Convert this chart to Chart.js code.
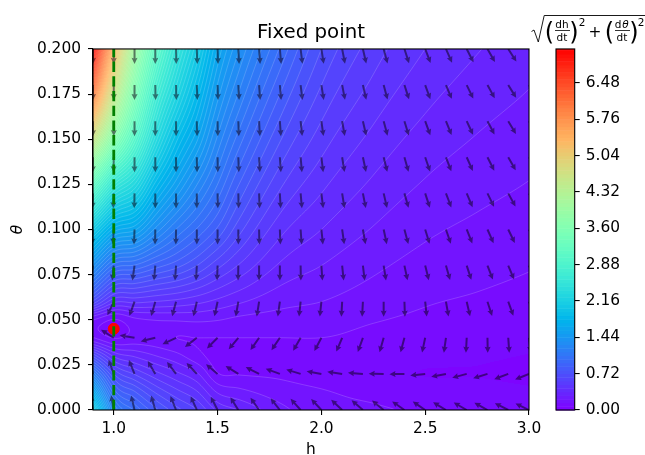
<!DOCTYPE html>
<html><head><meta charset="utf-8">
<style>html,body{margin:0;padding:0;background:#fff}canvas{display:block}</style>
<script src="https://cdn.jsdelivr.net/npm/chart.js@4"></script>
</head><body><canvas id="c" width="645" height="455"></canvas>
<script>
// magnitude table: sampled at hGrid (columns) and thetaGrid (rows, low to high)
const thetaGrid=[0,.01,.02,.03,.04,.05,.06,.08,.1,.125,.15,.175,.2];
const hGrid=[.9,1,1.1,1.2,1.3,1.4,1.5,1.6,1.8,2,2.25,2.5,2.75,3];
const magH090=[2.2,1.7,1.2,.7,.22,.22,.7,1.4,2.1,3.2,4.6,6.0,7.15];
const magH100=[1.25,.98,.72,.42,.14,.14,.45,1.05,1.7,2.6,3.7,4.6,5.4];
const magH110=[1.0,.8,.57,.35,.17,.2,.45,1.0,1.6,2.3,3.0,3.55,4.05];
const magH120=[.82,.64,.46,.29,.17,.22,.43,.9,1.35,1.85,2.35,2.75,3.15];
const magH130=[.68,.53,.38,.24,.144,.225,.41,.82,1.15,1.55,1.9,2.25,2.55];
const magH140=[.58,.44,.3,.17,.144,.23,.38,.72,1.0,1.3,1.6,1.85,2.1];
const magH150=[.42,.28,.15,.11,.144,.22,.34,.6,.85,1.08,1.28,1.47,1.65];
const magH160=[.36,.24,.14,.1,.144,.2,.3,.5,.68,.87,1.05,1.22,1.38];
const magH180=[.24,.18,.13,.09,.144,.185,.24,.35,.457,.593,.729,.864,1.0];
const magH200=[.17,.15,.11,.09,.144,.18,.216,.288,.36,.45,.54,.63,.72];
const magH225=[.155,.125,.09,.09,.12,.15,.18,.231,.283,.347,.411,.476,.54];
const magH250=[.13,.1,.07,.09,.11,.13,.15,.19,.23,.281,.331,.382,.432];
const magH275=[.11,.09,.07,.08,.1,.118,.135,.168,.2,.242,.283,.324,.365];
const magH300=[.1,.08,.06,.07,.09,.105,.12,.149,.177,.213,.249,.284,.32];
const magnitudeColumns=[magH090,magH100,magH110,magH120,magH130,magH140,magH150,magH160,magH180,magH200,magH225,magH250,magH275,magH300];
// arrow directions in degrees (0 = straight down on the page, + = to the right)
const arrowH=[.9,1,1.1,1.2,1.3,1.4,1.5,1.6,1.7,1.8,1.9,2,2.1,2.2,2.3,2.4,2.5,2.6,2.7,2.8,2.9,3];
const arrowTheta=[.2,.18,.16,.14,.12,.1,.08,.06,.04,.02,0];
const dir020=[0,0,0,0,1,2,2,3,4,5,7,9,11,13,15,18,21,24,27,30,33,36];
const dir018=[0,0,0,1,1,2,2,3,4,5,7,9,11,13,15,18,20,23,26,29,32,35];
const dir016=[0,0,0,0,0,1,1,2,3,4,6,8,10,13,15,17,20,22,25,28,31,34];
const dir014=[-1,-1,0,0,0,1,1,2,3,4,5,7,9,12,14,16,19,21,24,27,30,33];
const dir012=[-2,-2,-1,0,0,0,1,1,2,3,5,7,9,11,13,16,18,21,23,26,29,32];
const dir010=[-4,-3,-2,-1,-1,0,0,0,1,2,4,6,8,10,12,15,17,19,22,24,26,28];
const dir008=[-10,-6,-8,-5,-4,-3,-2,-1,0,0,1,4,6,7,9,12,14,16,18,21,23,25];
const dir006=[-30,-25,-20,-16,-15,-13,-12,-10,-9,-8,-6,-6,-3,-3,0,2,6,10,13,18,20,23];
const dir004=[-150,-122,-100,-76,-65,-52,-45,-40,-35,-34,-30,-28,-23,-20,-16,-15,-12,-8,-3,1,4,7];
const dir002=[-165,-160,-158,-150,-143,-137,-130,-122,-117,-110,-107,-100,-98,-94,-91,-89,-84,-79,-75,-73,-69,-68];
const dir000=[-172,-170,-167,-164,-158,-156,-153,-148,-145,-142,-138,-137,-133,-131,-129,-125,-124,-121,-120,-119,-117,-116];
const arrowDirs=[dir020,dir018,dir016,dir014,dir012,dir010,dir008,dir006,dir004,dir002,dir000];
const xTicks=[1,1.5,2,2.5,3];
const yTicks=[0,.025,.05,.075,.1,.125,.15,.175,.2];
const cbTicks=[0,.72,1.44,2.16,2.88,3.6,4.32,5.04,5.76,6.48];
const fixedPoint=[{x:1,y:.045}];
const guideLine=[{x:1,y:0},{x:1,y:.2}];
const vMax=7.154, levelStep=.072;

const FONT='"DejaVu Sans"';
function rainbow(t){t=Math.max(0,Math.min(1,t));
  return [Math.abs(2*t-.5),Math.abs(Math.sin(Math.PI*t)),Math.abs(Math.cos(Math.PI*t/2))].map(c=>Math.round(255*c));}
function bandColor(v){const k=Math.floor(v/levelStep);return rainbow((k+.5)*levelStep/vMax);}
function herm(xs,ys,x){
  const n=xs.length;let i=0;
  if(x<=xs[0])return ys[0]; if(x>=xs[n-1])return ys[n-1];
  while(i<n-2&&x>xs[i+1])i++;
  const d=i0=>i0<=0?(ys[1]-ys[0])/(xs[1]-xs[0]):i0>=n-1?(ys[n-1]-ys[n-2])/(xs[n-1]-xs[n-2]):
    ((ys[i0+1]-ys[i0])/(xs[i0+1]-xs[i0])+(ys[i0]-ys[i0-1])/(xs[i0]-xs[i0-1]))/2;
  const h=xs[i+1]-xs[i],s=(x-xs[i])/h,s2=s*s,s3=s2*s;
  return (2*s3-3*s2+1)*ys[i]+(s3-2*s2+s)*h*d(i)+(-2*s3+3*s2)*ys[i+1]+(s3-s2)*h*d(i+1);
}
function fieldRow(th){return magnitudeColumns.map(c=>herm(thetaGrid,c,th));}

const fieldPlugin={id:'field',
  afterLayout(chart){const s=chart.scales.cb,a=chart.chartArea;s.left=574.7;s.right=645;s.top=a.top;s.bottom=a.bottom;},
  beforeDatasetsDraw(chart){
    const {ctx,chartArea:a,scales:{x,y}}=chart;
    const L=Math.round(a.left),T=Math.round(a.top),W=Math.round(a.right)-L,H=Math.round(a.bottom)-T;
    const off=document.createElement('canvas');off.width=W;off.height=H;
    const oc=off.getContext('2d'),img=oc.createImageData(W,H);
    const hs=[];for(let i=0;i<W;i++)hs.push(x.getValueForPixel(L+i+.5));
    for(let j=0;j<H;j++){
      const r=fieldRow(y.getValueForPixel(T+j+.5));
      for(let i=0;i<W;i++){
        const v=Math.max(0,herm(hGrid,r,hs[i])),c=bandColor(v),p=(j*W+i)*4;
        img.data[p]=c[0];img.data[p+1]=c[1];img.data[p+2]=c[2];img.data[p+3]=255;
      }
    }
    oc.putImageData(img,0,0);ctx.drawImage(off,L,T);
    // iso-lines
    const st=2,nx=Math.floor(W/st)+1,ny=Math.floor(H/st)+1,g=[];
    for(let j=0;j<ny;j++){const r=fieldRow(y.getValueForPixel(T+j*st));const row=new Float32Array(nx);
      for(let i=0;i<nx;i++)row[i]=Math.max(0,herm(hGrid,r,x.getValueForPixel(L+i*st)));g.push(row);}
    ctx.save();ctx.beginPath();ctx.rect(L,T,W,H);ctx.clip();
    ctx.strokeStyle='rgba(255,255,255,.28)';ctx.lineWidth=.6;ctx.beginPath();
    for(let j=0;j<ny-1;j++)for(let i=0;i<nx-1;i++){
      const a0=g[j][i],b0=g[j][i+1],c0=g[j+1][i+1],d0=g[j+1][i];
      const lo=Math.min(a0,b0,c0,d0),hi=Math.max(a0,b0,c0,d0);
      for(let k=Math.max(2,Math.ceil(lo/levelStep));k*levelStep<=hi;k++){
        const lv=k*levelStep,pts=[];
        const X=L+i*st,Y=T+j*st;
        if((a0<lv)!==(b0<lv))pts.push([X+st*(lv-a0)/(b0-a0),Y]);
        if((b0<lv)!==(c0<lv))pts.push([X+st,Y+st*(lv-b0)/(c0-b0)]);
        if((d0<lv)!==(c0<lv))pts.push([X+st*(lv-d0)/(c0-d0),Y+st]);
        if((a0<lv)!==(d0<lv))pts.push([X,Y+st*(lv-a0)/(d0-a0)]);
        if(pts.length>=2){ctx.moveTo(pts[0][0],pts[0][1]);ctx.lineTo(pts[1][0],pts[1][1]);
          if(pts.length===4){ctx.moveTo(pts[2][0],pts[2][1]);ctx.lineTo(pts[3][0],pts[3][1]);}}
      }
    }
    ctx.stroke();
    // arrows
    const len=15,hl=5.5,hw=3,sw=1;
    ctx.fillStyle='rgba(10,0,20,.52)';
    arrowTheta.forEach((th,ri)=>arrowH.forEach((h,ci)=>{
      const ang=arrowDirs[ri][ci]*Math.PI/180;
      const px=x.getPixelForValue(h),py=y.getPixelForValue(th);
      ctx.save();ctx.translate(px,py);ctx.rotate(-ang);
      ctx.beginPath();
      ctx.moveTo(-sw,0);ctx.lineTo(-sw,len-hl);ctx.lineTo(-hw,len-hl-.6);ctx.lineTo(0,len);
      ctx.lineTo(hw,len-hl-.6);ctx.lineTo(sw,len-hl);ctx.lineTo(sw,0);ctx.closePath();ctx.fill();
      ctx.restore();
    }));
    ctx.restore();
  },
  afterDraw(chart){
    const {ctx,chartArea:a,scales:{cb}}=chart;
    ctx.save();
    ctx.strokeStyle='#000';ctx.lineWidth=1.1;
    ctx.strokeRect(a.left,a.top,a.right-a.left,a.bottom-a.top);
    // colour bar
    const bl=556,br=574.7;
    for(let k=0;k*levelStep<vMax;k++){
      const v0=k*levelStep,v1=Math.min(vMax,(k+1)*levelStep),c=rainbow((k+.5)*levelStep/vMax);
      ctx.fillStyle=`rgb(${c[0]},${c[1]},${c[2]})`;
      const y0=cb.getPixelForValue(v0),y1=cb.getPixelForValue(v1);
      ctx.fillRect(bl,y1,br-bl,y0-y1+.5);
    }
    ctx.strokeRect(bl,a.top,br-bl,a.bottom-a.top);
    // colour bar heading
    ctx.fillStyle='#000';ctx.strokeStyle='#000';ctx.lineWidth=.9;ctx.textBaseline='alphabetic';
    ctx.beginPath();ctx.moveTo(531.5,31.5);ctx.lineTo(534,30);ctx.lineTo(538.3,42);ctx.lineTo(544.2,15.5);ctx.lineTo(645,15.5);ctx.stroke();
    const t=(s,x,y,f,al)=>{ctx.font=f;ctx.textAlign=al||'center';ctx.fillText(s,x,y);};
    const small='10.5px '+FONT,big='24px '+FONT,mid='15.4px '+FONT;
    t('(',549.5,39.5,big);t(')',574,39.5,big);
    t('(',609.5,39.5,big);t(')',634,39.5,big);
    t('dh',562,27.5,small);t('dt',562,41,small);
    ctx.lineWidth=.8;
    ctx.beginPath();ctx.moveTo(555,30.5);ctx.lineTo(570,30.5);ctx.moveTo(615,30.5);ctx.lineTo(630,30.5);ctx.stroke();
    t('d',618,27.5,small);t('θ',625.5,27.5,'italic 10.5px '+FONT);t('dt',622,41,small);
    t('2',582,26,small);t('2',641,26,small);t('+',595,37,mid);
    ctx.restore();
  }
};
const tickFont={family:FONT,size:15.4};
new Chart(document.getElementById('c'),{
  type:'scatter',
  data:{datasets:[
    {type:'line',data:guideLine,borderColor:'#008000',borderWidth:2.8,borderDash:[10.3,4.4],pointRadius:0,fill:false,xAxisID:'x',yAxisID:'y'},
    {data:fixedPoint,backgroundColor:'#ff0000',borderColor:'#ff0000',pointRadius:5.5,xAxisID:'x',yAxisID:'y'}
  ]},
  options:{
    responsive:false,animation:false,devicePixelRatio:1,
    layout:{padding:0},
    plugins:{legend:{display:false},tooltip:{enabled:false},
      title:{display:true,text:'Fixed point',fullSize:false,color:'#000',font:{family:FONT,size:19.8,weight:'normal',lineHeight:1.2},padding:{top:21,bottom:4.2}}},
    scales:{
      x:{type:'linear',min:.9,max:3,position:'bottom',
        afterBuildTicks(s){s.ticks=xTicks.map(v=>({value:v}));},
        afterFit(s){s.height=45;},
        grid:{drawOnChartArea:false,drawTicks:true,tickLength:5,color:'#000',lineWidth:1.1},border:{color:'#000',width:1.1},
        ticks:{color:'#000',font:tickFont,padding:5,autoSkip:false,maxRotation:0,callback:v=>v.toFixed(1)},
        title:{display:true,text:'h',color:'#000',font:tickFont,padding:{top:0,bottom:-4}}},
      y:{type:'linear',min:0,max:.2,position:'left',
        afterBuildTicks(s){s.ticks=yTicks.map(v=>({value:v}));},
        afterFit(s){s.width=93;},
        grid:{drawOnChartArea:false,drawTicks:true,tickLength:5,color:'#000',lineWidth:1.1},border:{color:'#000',width:1.1},
        ticks:{color:'#000',font:tickFont,padding:7,autoSkip:false,callback:v=>v.toFixed(3)},
        title:{display:true,text:'θ',color:'#000',font:{family:FONT,size:15.4,style:'italic'},padding:{top:9,bottom:0}}},
      cb:{type:'linear',min:0,max:vMax,position:'right',
        afterBuildTicks(s){s.ticks=cbTicks.map(v=>({value:v}));},
        afterFit(s){s.width=116;},
        grid:{drawOnChartArea:false,drawTicks:true,tickLength:5,color:'#000',lineWidth:1.1},border:{display:false},
        ticks:{color:'#000',font:tickFont,padding:6,autoSkip:false,callback:v=>v.toFixed(2)}}
    }
  },
  plugins:[fieldPlugin]
});
</script></body></html>
